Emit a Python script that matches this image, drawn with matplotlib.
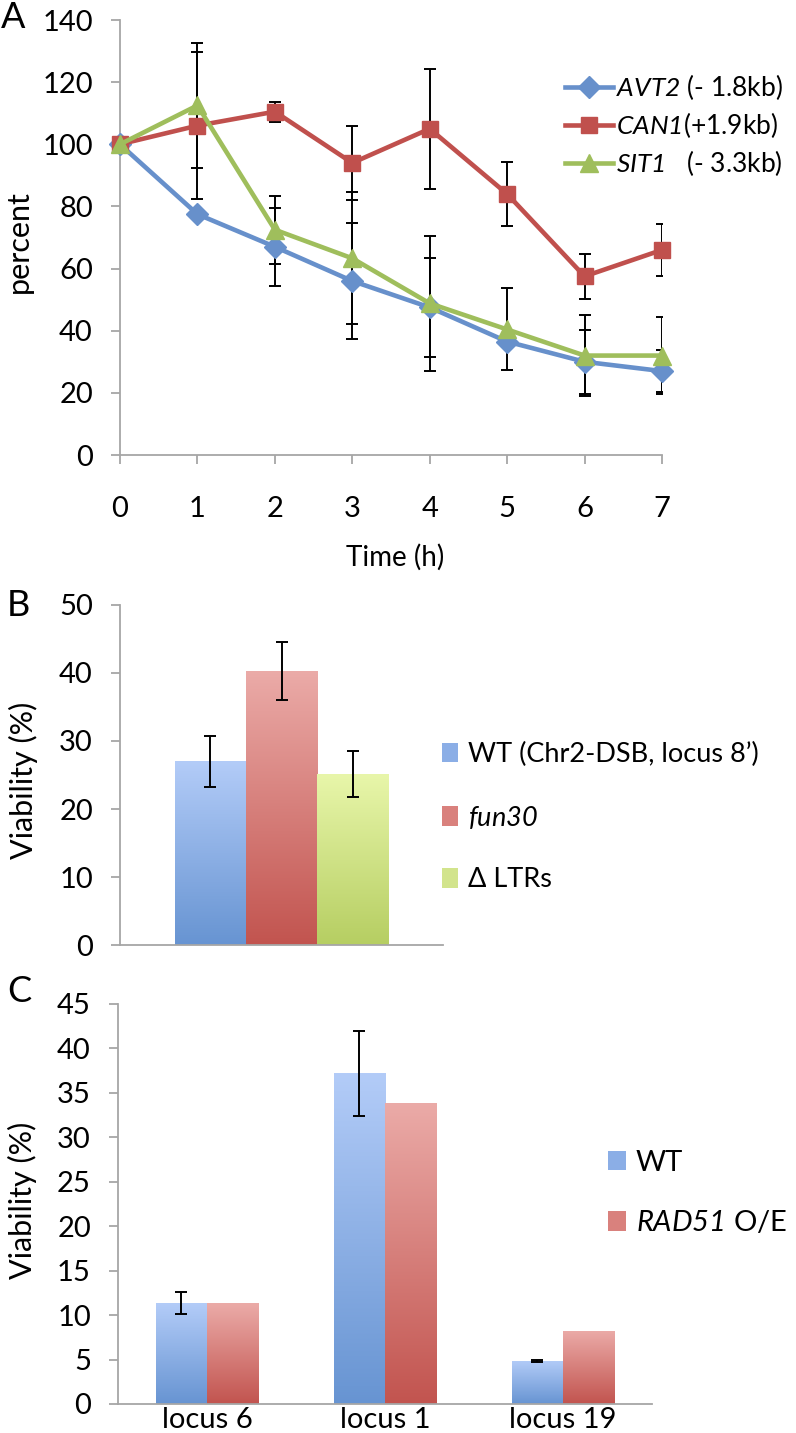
import numpy as np
import matplotlib
matplotlib.use('Agg')
import matplotlib.pyplot as plt
from matplotlib.colors import LinearSegmentedColormap
from matplotlib.patches import Rectangle

plt.rcParams['font.family'] = ['Lato', 'DejaVu Sans']
plt.rcParams['mathtext.fontset'] = 'custom'
plt.rcParams['mathtext.rm'] = 'Lato:italic'
plt.rcParams['mathtext.it'] = 'Lato:italic'

# ---------------- Panel A data ----------------
hours = [0, 1, 2, 3, 4, 5, 6, 7]
avt2 = [100, 77.5, 67, 56, 47.5, 36.5, 30, 27]
avt2_err = [0, 0, 12.5, 18.6, 16, 0, 10.3, 6.7]
can1 = [100, 106, 110.5, 94, 105, 84, 57.5, 66]
can1_err = [0, 23.6, 3.2, 11.8, 19.3, 10.2, 7.2, 8.3]
sit1 = [100, 112.5, 72.5, 63.3, 48.8, 40.4, 32, 32]
sit1_err = [0, 20, 11, 21.2, 21.8, 13.2, 13.1, 12.3]
series_a_labels = [r'$AVT2$ (- 1.8kb)', r'$CAN1$(+1.9kb)',
                   r'$SIT1$   (- 3.3kb)']

# ---------------- Panel B data ----------------
strains_b = ['WT (Chr2-DSB, locus 8\u2019)', r'$fun30$', '\u0394 LTRs']
viab_b = [27, 40.3, 25.1]
viab_b_err = [3.7, 4.2, 3.4]

# ---------------- Panel C data ----------------
loci = ['locus 6', 'locus 1', 'locus 19']
wt_c = [11.35, 37.2, 4.87]
wt_c_err = [1.2, 4.75, 0.1]
rad51_c = [11.35, 33.9, 8.24]
series_c_labels = ['WT', r'$RAD51$ O/E']

# ---------------- styling ----------------
W, H = 796, 1433
fig = plt.figure(figsize=(W / 100, H / 100), dpi=100)
AX_GRAY = '#A6A6A6'
TICK_FS = 21
LAB_FS = 22

line_cols = ['#6790CB', '#C0504D', '#9FBE5C']
blue_g = ('#B3CCF8', '#6794D2')
red_g = ('#EBABA8', '#C2544F')
green_g = ('#E8F6AA', '#B6CE62')


def px_axes(l, r, t, b):
    return fig.add_axes([l / W, 1 - b / H, (r - l) / W, (b - t) / H])


def style_axes(ax):
    for s in ['top', 'right']:
        ax.spines[s].set_visible(False)
    for s in ['left', 'bottom']:
        ax.spines[s].set_color(AX_GRAY)
        ax.spines[s].set_linewidth(1.3)
    ax.tick_params(axis='both', colors=AX_GRAY, labelcolor='black',
                   labelsize=TICK_FS, length=6.5, width=1.3, direction='out')


def grad_bars(ax, bars, top, bot):
    cmap = LinearSegmentedColormap.from_list('g', [bot, top])
    grad = np.linspace(0, 1, 256).reshape(-1, 1)
    for r in bars:
        x0, y0 = r.get_x(), r.get_y()
        w, h = r.get_width(), r.get_height()
        im = ax.imshow(grad, extent=[x0, x0 + w, y0, y0 + h], origin='lower',
                       cmap=cmap, aspect='auto', zorder=2, interpolation='bilinear')
        im.set_clip_path(r)
        r.set_facecolor('none')


# ================= Panel A =================
axA = px_axes(120, 662, 20, 455)
style_axes(axA)
series = [(avt2, avt2_err, 'D', 11), (can1, can1_err, 's', 12), (sit1, sit1_err, '^', 13)]
handles = []
for (vals, errs, mk, ms), col, lab in zip(series, line_cols, series_a_labels):
    xs = [h for h, e in zip(hours, errs) if e > 0]
    ys = [v for v, e in zip(vals, errs) if e > 0]
    es = [e for e in errs if e > 0]
    axA.errorbar(xs, ys, yerr=es, fmt='none', ecolor='black', elinewidth=1.4,
                 capsize=4.5, capthick=1.4, zorder=2)
    ln, = axA.plot(hours, vals, color=col, lw=3.3, marker=mk, ms=ms,
                   mec=col, mfc=col, zorder=3, label=lab, clip_on=False)
    handles.append(ln)
axA.set_xlim(0, 7)
axA.set_ylim(0, 140)
axA.set_yticks(range(0, 141, 20))
axA.set_xticks(hours)
axA.tick_params(axis='x', pad=23)
axA.tick_params(axis='y', pad=13)
axA.set_ylabel('percent', fontsize=LAB_FS)
axA.yaxis.set_label_coords(-0.16, 0.49)
axA.set_xlabel('Time (h)', fontsize=20)
axA.xaxis.set_label_coords(0.507, -0.205)
axA.legend(handles=handles, loc='center left',
           bbox_to_anchor=(565 / W, 1 - 125 / H), bbox_transform=fig.transFigure,
           frameon=False, fontsize=19, handlelength=1.8, handletextpad=0.15,
           borderpad=0, borderaxespad=0, labelspacing=0.3)

# ================= Panel B =================
axB = px_axes(120, 443, 605, 945)
style_axes(axB)
bw = 0.22
xb = [-bw, 0, bw]
barsB = axB.bar(xb, viab_b, width=bw, zorder=2)
for r, (t, b) in zip(barsB, [blue_g, red_g, green_g]):
    grad_bars(axB, [r], t, b)
axB.errorbar(xb, viab_b, yerr=viab_b_err, fmt='none', ecolor='black',
             elinewidth=1.4, capsize=4.5, capthick=1.4, zorder=4)
axB.set_xlim(-0.5, 0.5)
axB.set_ylim(0, 50)
axB.set_yticks(range(0, 51, 10))
axB.set_xticks([])
axB.tick_params(axis='y', pad=13)
axB.set_ylabel('Viability (%)', fontsize=LAB_FS)
axB.yaxis.set_label_coords(-0.255, 0.485)
hB = [Rectangle((0, 0), 1, 1, facecolor=m) for m in ['#8BAEE6', '#D9817D', '#D2E48C']]
axB.legend(hB, strains_b, loc='center left',
           bbox_to_anchor=(442 / W, 1 - 817 / H), bbox_transform=fig.transFigure,
           frameon=False, fontsize=19.5, handlelength=0.6, handleheight=0.75,
           handletextpad=0.35, borderpad=0, borderaxespad=0, labelspacing=1.35)

# ================= Panel C =================
axC = px_axes(118, 652, 1004, 1404)
style_axes(axC)
bwc = 0.287
xc = np.arange(len(loci))
barsW = axC.bar(xc - bwc / 2, wt_c, width=bwc, zorder=2)
barsR = axC.bar(xc + bwc / 2, rad51_c, width=bwc, zorder=2)
grad_bars(axC, barsW, *blue_g)
grad_bars(axC, barsR, *red_g)
axC.errorbar(xc - bwc / 2, wt_c, yerr=wt_c_err, fmt='none', ecolor='black',
             elinewidth=1.4, capsize=4.5, capthick=1.4, zorder=4)
axC.set_xlim(-0.5, 2.5)
axC.set_ylim(0, 45)
axC.set_yticks(range(0, 46, 5))
axC.set_xticks(xc)
axC.set_xticklabels(loci)
axC.tick_params(axis='x', length=0, pad=2)
axC.tick_params(axis='y', pad=13)
axC.set_ylabel('Viability (%)', fontsize=LAB_FS)
axC.yaxis.set_label_coords(-0.152, 0.51)
hC = [Rectangle((0, 0), 1, 1, facecolor=m) for m in ['#8BAEE6', '#D9817D']]
axC.legend(hC, series_c_labels, loc='center left',
           bbox_to_anchor=(608 / W, 1 - 1193 / H), bbox_transform=fig.transFigure,
           frameon=False, fontsize=21, handlelength=0.6, handleheight=0.65,
           handletextpad=0.35, borderpad=0, borderaxespad=0, labelspacing=1.15)

# panel letters
fig.text(1 / W, 1 - 17 / H, 'A', fontsize=26, va='center', ha='left')
fig.text(7 / W, 1 - 605 / H, 'B', fontsize=26, va='center', ha='left')
fig.text(7 / W, 1 - 992 / H, 'C', fontsize=26, va='center', ha='left')

fig.savefig('out.png', dpi=100)
